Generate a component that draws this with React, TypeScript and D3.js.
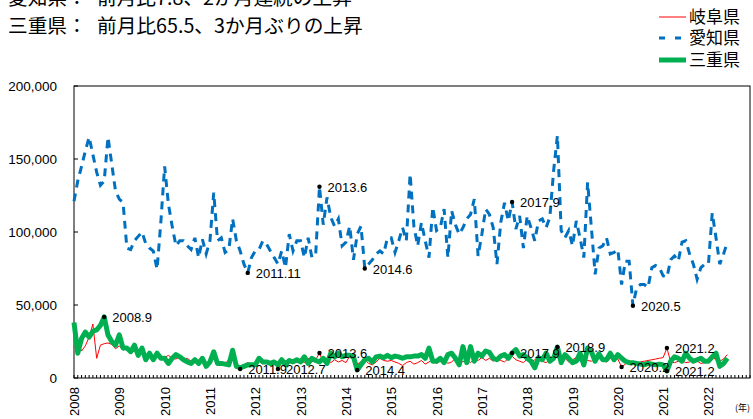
import React from "react";
import * as d3 from "d3";

// Monthly data, 2008.1 – 2022.6
const gifu: number[] = [
  21000, 24000, 18500, 22000, 28000, 37000, 13500, 22500, 23500, 24000, 23000, 20000,
  22000, 19000, 21500, 17500, 18500, 16000, 17000, 15000, 16500, 14500, 17500, 15000,
  14000, 15500, 13500, 13000, 14500, 12500, 13500, 11500, 12000, 10500, 12500, 9500,
  11500, 13000, 10500, 11000, 10000, 12500, 14000, 10000, 6200, 9000, 10500, 9500,
  10500, 12000, 9500, 11500, 10000, 12000, 6200, 10500, 12000, 10000, 11500, 10500,
  12000, 10500, 13500, 11000, 12500, 17100, 11000, 13000, 10500, 12500, 11000, 12000,
  10500, 15000, 12000, 9500, 11000, 12500, 10000, 9000, 11000, 13500, 12000, 11500,
  12000, 11000, 10000, 8500, 10500, 11500, 9500, 10500, 12000, 9500, 11000, 13000,
  10000, 11500, 12500, 10000, 11000, 13500, 12000, 11000, 12500, 10500, 13000, 12000,
  14000, 12000, 13500, 11500, 13000, 12000, 11000, 13500, 15000, 12500, 11500, 10500,
  13000, 11000, 12500, 14500, 11500, 10500, 12500, 15000, 14000, 12000, 13500, 11000,
  12500, 14000, 11500, 13000, 12000, 11500, 12500, 13500, 12000, 11000, 13500, 12500,
  13000, 7500, 9500, 11000, 10500, 10000, 11000, 11500, 12000, 12500, 13000, 13500,
  14000, 20500, 11000, 10500, 11500, 12000, 10500, 11000, 12500, 11500, 10000, 10500,
  12000, 15500, 12000, 11500, 13000, 16000,
];

const aichi: number[] = [
  121000, 135000, 145000, 155500, 165000, 153000, 141000, 132000, 135000, 165000, 146500, 128000,
  122500, 120000, 89000, 88000, 94000, 97000, 100000, 92000, 89000, 87000, 74500, 107000,
  145000, 119000, 104000, 90500, 94000, 94000, 90500, 88000, 96000, 82500, 95000, 85000,
  94000, 127000, 94000, 96000, 86000, 88000, 109000, 94000, 87000, 78000, 72000, 82500,
  87000, 88000, 94000, 91700, 87000, 82500, 78000, 87000, 75600, 98500, 87000, 94000,
  94000, 82500, 96000, 82500, 85000, 131000, 105000, 123700, 110000, 104000, 109000, 90500,
  93000, 104000, 81000, 98500, 104000, 75000, 78000, 81000, 85000, 87000, 85000, 96000,
  96000, 86000, 94000, 103000, 94000, 139700, 104000, 90500, 106500, 94000, 82500, 117000,
  101000, 103000, 115700, 82500, 114500, 105000, 98500, 103000, 109000, 112000, 122500, 83600,
  98500, 115700, 112000, 103000, 78000, 106500, 120000, 107600, 120500, 102000, 111000, 89000,
  111000, 103000, 94000, 107600, 109000, 103000, 110000, 142000, 166000, 101000, 96000, 101000,
  90500, 107600, 96000, 82500, 134000, 103000, 71000, 89000, 90500, 96000, 85000, 86000,
  88000, 64000, 80000, 80000, 49500, 62000, 64000, 64000, 62000, 75600, 77000, 75600,
  70000, 69000, 81000, 83600, 80000, 93000, 94000, 85000, 78000, 67600, 75600, 78000,
  78000, 113000, 96000, 78000, 85000, 93000,
];

const mie: number[] = [
  38000, 17000, 27000, 31500, 28000, 32000, 33000, 36000, 41800, 29500, 25000, 22500,
  29500, 20500, 20500, 18000, 22500, 15500, 20500, 12500, 17000, 12500, 17000, 13500,
  13500, 10000, 13500, 16000, 14500, 12500, 11000, 10000, 12500, 10000, 13500, 8000,
  11000, 18000, 10000, 10000, 9500, 9000, 19000, 8000, 7000, 8000, 9000, 9000,
  9000, 13500, 11000, 11000, 10000, 11000, 9000, 12500, 9000, 12000, 11000, 12500,
  11000, 14500, 10000, 13500, 12000, 11000, 13500, 10000, 17000, 14500, 17000, 14500,
  15500, 15500, 14500, 5500, 9000, 12500, 13500, 11000, 14500, 15000, 14000, 15500,
  14000, 15000, 14500, 13500, 14500, 14500, 15000, 15000, 16000, 13500, 20500, 11500,
  11500, 13500, 10500, 16000, 17000, 13500, 9000, 21500, 10500, 21500, 11500, 17000,
  15000, 18500, 17500, 13500, 12500, 15000, 16000, 13500, 17100, 19500, 15000, 16000,
  13500, 11500, 7000, 14000, 12500, 17000, 11500, 13500, 21200, 10500, 16000, 13500,
  10500, 11500, 17000, 9000, 20500, 18000, 11500, 16500, 12500, 12500, 17000, 12500,
  16000, 13500, 11500, 10500, 10500, 10000, 9500, 9000, 10000, 9500, 9000, 9500,
  9000, 4800, 11500, 14500, 13500, 11500, 17000, 13500, 11500, 12500, 13500, 11500,
  11500, 14500, 17000, 8000, 10000, 13500,
];

const years: number[] = [2008, 2009, 2010, 2011, 2012, 2013, 2014, 2015, 2016, 2017, 2018, 2019, 2020, 2021, 2022];
const yTicks: number[] = [0, 50000, 100000, 150000, 200000];

// annotations: [month index, label]
const annAichi: [number, string][] = [[46, "2011.11"], [65, "2013.6"], [77, "2014.6"], [116, "2017.9"], [148, "2020.5"]];
const annMie: [number, string][] = [[8, "2008.9"], [75, "2014.4"], [116, "2017.9"], [128, "2018.9"], [157, "2021.2"]];
const annGifu: [number, string][] = [[44, "2011.9"], [54, "2012.7"], [65, "2013.6"], [145, "2020.2"], [157, "2021.2"]];

const titleLines: [string, string][] = [
  ["愛知県：", "前月比7.8、2か月連続の上昇"],
  ["三重県：", "前月比65.5、3か月ぶりの上昇"],
];
const legendNames = ["岐阜県", "愛知県", "三重県"];

const JP = "'Noto Sans CJK JP', 'Noto Sans', sans-serif";
const NUM = "'Liberation Sans', Arial, sans-serif";

export default function App() {
  const W = 753, H = 419;
  const L = 74, R = 750, T = 86, B = 378;
  const x = d3.scaleLinear().domain([0, 179]).range([L, R]);
  const y = d3.scaleLinear().domain([0, 200000]).range([B, T]);
  const line = d3.line<number>().x((_, i) => x(i)).y((v) => y(v));
  const months = d3.range(0, 180);
  const fmt = d3.format(",");

  const ann = (data: number[], list: [number, string][], key: string) =>
    list.map(([i, lab]) => (
      <g key={key + i + lab}>
        <circle cx={x(i)} cy={y(data[i])} r={2.2} fill="#000" />
        <text x={x(i) + 8} y={y(data[i]) + 5} fontFamily={NUM} fontSize={13} fill="#000">{lab}</text>
      </g>
    ));

  return (
    <svg width={W} height={H} style={{ position: "absolute", left: 0, top: 0, background: "#fff" }}>
      <rect x={0} y={0} width={W} height={H} fill="#fff" />
      {/* titles */}
      {titleLines.map(([a, b], k) => (
        <g key={k} fontFamily={JP} fontSize={19.7} fill="#000">
          <text x={8} y={5 + k * 28}>{a}</text>
          <text x={97} y={5 + k * 28}>{b}</text>
        </g>
      ))}
      {/* legend */}
      <g>
        <line x1={659} x2={686} y1={17} y2={17} stroke="#ff0000" strokeWidth={1} />
        <line x1={659} x2={686} y1={38} y2={38} stroke="#0070c0" strokeWidth={3} strokeDasharray="6,10" />
        <line x1={659} x2={686} y1={60} y2={60} stroke="#00b050" strokeWidth={5} />
        {legendNames.map((n, k) => (
          <text key={n} x={689} y={[17, 38, 60][k] + 6} fontFamily={JP} fontSize={17} fill="#000">{n}</text>
        ))}
      </g>
      {/* plot frame */}
      <rect x={L} y={T} width={R - L} height={B - T} fill="none" stroke="#000" strokeWidth={1} />
      {/* y ticks */}
      {yTicks.map((t) => (
        <g key={t}>
          <line x1={L} x2={L + 4} y1={y(t)} y2={y(t)} stroke="#000" />
          <text x={57} y={y(t) + 5} textAnchor="end" fontFamily={NUM} fontSize={13.5} fill="#000">{fmt(t)}</text>
        </g>
      ))}
      {/* x ticks */}
      {months.map((m) => (
        <line key={m} x1={x(m)} x2={x(m)} y1={B} y2={B - 3} stroke="#000" strokeWidth={1} />
      ))}
      {years.map((yr, k) => (
        <text key={yr} transform={`translate(${x(k * 12) + 5},387) rotate(-90)`} textAnchor="end"
          fontFamily={NUM} fontSize={13} fill="#000">{yr}</text>
      ))}
      <text x={735} y={411} fontFamily={JP} fontSize={9} fill="#000">(年)</text>
      {/* series */}
      <path d={line(gifu) || ""} fill="none" stroke="#ff0000" strokeWidth={1} />
      <path d={line(aichi) || ""} fill="none" stroke="#0070c0" strokeWidth={3} strokeDasharray="8,6" />
      <path d={line(mie) || ""} fill="none" stroke="#00b050" strokeWidth={5} strokeLinejoin="round" />
      {ann(aichi, annAichi, "a")}
      {ann(mie, annMie, "m")}
      {ann(gifu, annGifu, "g")}
    </svg>
  );
}
